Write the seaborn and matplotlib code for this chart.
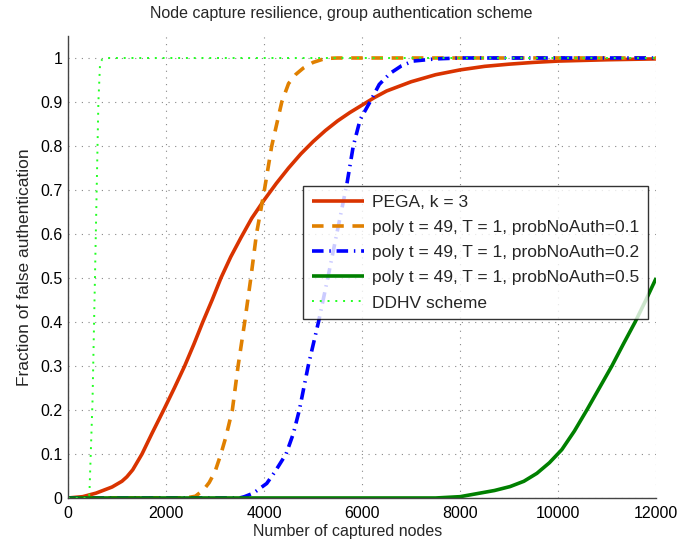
import matplotlib
matplotlib.use("Agg")
import matplotlib.pyplot as plt
import seaborn as sns
import pandas as pd

# values
pega_x = [0, 300, 571, 900, 1100, 1200, 1320, 1510, 1714, 1952, 2170, 2380, 2570, 2750,
          2940, 3120, 3320, 3530, 3750, 4000, 4250, 4500, 4750, 5000, 5250, 5500, 5750,
          6030, 6250, 6500, 7000, 7500, 8000, 8500, 9000, 9500, 10000, 11000, 12000]
pega_y = [0.0, 0.003, 0.011, 0.025, 0.038, 0.048, 0.064, 0.1, 0.147, 0.2, 0.25, 0.3, 0.35, 0.4,
          0.45, 0.5, 0.548, 0.592, 0.636, 0.677, 0.715, 0.75, 0.782, 0.81, 0.835, 0.857, 0.876,
          0.895, 0.91, 0.925, 0.946, 0.962, 0.973, 0.981, 0.986, 0.99, 0.993, 0.996, 0.998]

p01_x = [0, 2400, 2600, 2762, 2880, 3000, 3120, 3224, 3353, 3470, 3605, 3730, 3845,
         4007, 4156, 4361, 4500, 4650, 4800, 5000, 5250, 5500, 12000]
p01_y = [0.0, 0.0, 0.004, 0.018, 0.035, 0.06, 0.1, 0.14, 0.2, 0.3, 0.4, 0.5, 0.6,
         0.7, 0.8, 0.9, 0.942, 0.963, 0.977, 0.99, 0.999, 1.0, 1.0]

p02_x = [0, 3500, 3600, 3782, 4054, 4224, 4449, 4599, 4720, 4900, 5110, 5300, 5500,
         5690, 5820, 5960, 6160, 6350, 6570, 6800, 7040, 7500, 8000, 12000]
p02_y = [0.0, 0.0, 0.003, 0.011, 0.033, 0.06, 0.1, 0.147, 0.2, 0.3, 0.4, 0.5, 0.61,
         0.714, 0.8, 0.86, 0.9, 0.94, 0.965, 0.982, 0.993, 0.998, 1.0, 1.0]

p05_x = [0, 7500, 8000, 8400, 8700, 9020, 9300, 9565, 9820, 10075, 10330, 10585,
         10840, 11095, 11330, 11570, 11790, 12000]
p05_y = [0.0, 0.0, 0.003, 0.011, 0.017, 0.026, 0.038, 0.056, 0.08, 0.11, 0.152, 0.2,
         0.25, 0.3, 0.35, 0.4, 0.45, 0.5]

ddhv_x = [0, 430, 440, 500, 550, 585, 620, 655, 700, 790, 12000]
ddhv_y = [0.0, 0.0, 0.02, 0.22, 0.5, 0.7, 0.9, 0.99, 0.997, 1.0, 1.0]

labels = ["PEGA, k = 3",
          "poly t = 49, T = 1, probNoAuth=0.1",
          "poly t = 49, T = 1, probNoAuth=0.2",
          "poly t = 49, T = 1, probNoAuth=0.5",
          "DDHV scheme"]

x_ticks = [0, 2000, 4000, 6000, 8000, 10000, 12000]
y_ticks = [0, 0.1, 0.2, 0.3, 0.4, 0.5, 0.6, 0.7, 0.8, 0.9, 1]
y_tick_labels = ["0", "0.1", "0.2", "0.3", "0.4", "0.5", "0.6", "0.7", "0.8", "0.9", "1"]

sns.set_style("white")
plt.rcParams['font.family'] = ['Liberation Sans', 'DejaVu Sans']

fig = plt.figure(figsize=(6.82, 5.47), dpi=100)
ax = fig.add_axes([0.0997, 0.0896, 0.8625, 0.8446])

series = [
    (pega_x, pega_y, "#d93300", (0, ()), 2.6),
    (p01_x, p01_y, "#e08000", (0, (3.2, 2.4)), 2.6),
    (p02_x, p02_y, "#0000ff", (0, (3.2, 1.6, 0.4, 1.6)), 2.6),
    (p05_x, p05_y, "#008000", (0, ()), 2.6),
    (ddhv_x, ddhv_y, "#22ff22", (0, (1, 3)), 1.4),
]
for (xs, ys, col, ls, lw), lab in zip(series, labels):
    df = pd.DataFrame({"x": xs, "y": ys})
    sns.lineplot(data=df, x="x", y="y", ax=ax, color=col, linewidth=lw,
                 label=lab, estimator=None, sort=False)
    ax.lines[-1].set_linestyle(ls)

ax.set_xlim(0, 12000)
ax.set_ylim(0, 1.05)
ax.set_xticks(x_ticks)
ax.set_xticklabels([str(t) for t in x_ticks])
ax.set_yticks(y_ticks)
ax.set_yticklabels(y_tick_labels)
ax.tick_params(direction="in", length=4, labelsize=11.5, colors="#333333",
               labelcolor="black")
ax.tick_params(axis="x", pad=6)
ax.tick_params(axis="y", pad=4)
ax.grid(True, linestyle=(0, (1, 5)), color="#888888", linewidth=0.8)
for side in ["top", "right"]:
    ax.spines[side].set_visible(False)
for side in ["left", "bottom"]:
    ax.spines[side].set_color("#444444")
    ax.spines[side].set_linewidth(1.0)

ax.set_xlabel("Number of captured nodes", fontsize=11.5, labelpad=2, x=0.476)
ax.set_ylabel("Fraction of false authentication", fontsize=12.5, labelpad=6)
ax.set_title("Node capture resilience, group authentication scheme", fontsize=11.5,
             pad=13, x=0.464)

leg = ax.legend(loc="lower right", bbox_to_anchor=(0.986, 0.387), fontsize=12.5,
                frameon=True, fancybox=False, handlelength=3.0, borderpad=0.5,
                labelspacing=0.58, handletextpad=0.45, borderaxespad=0)
leg.get_frame().set_edgecolor("black")
leg.get_frame().set_linewidth(1.0)

fig.savefig("out.png", dpi=100)
